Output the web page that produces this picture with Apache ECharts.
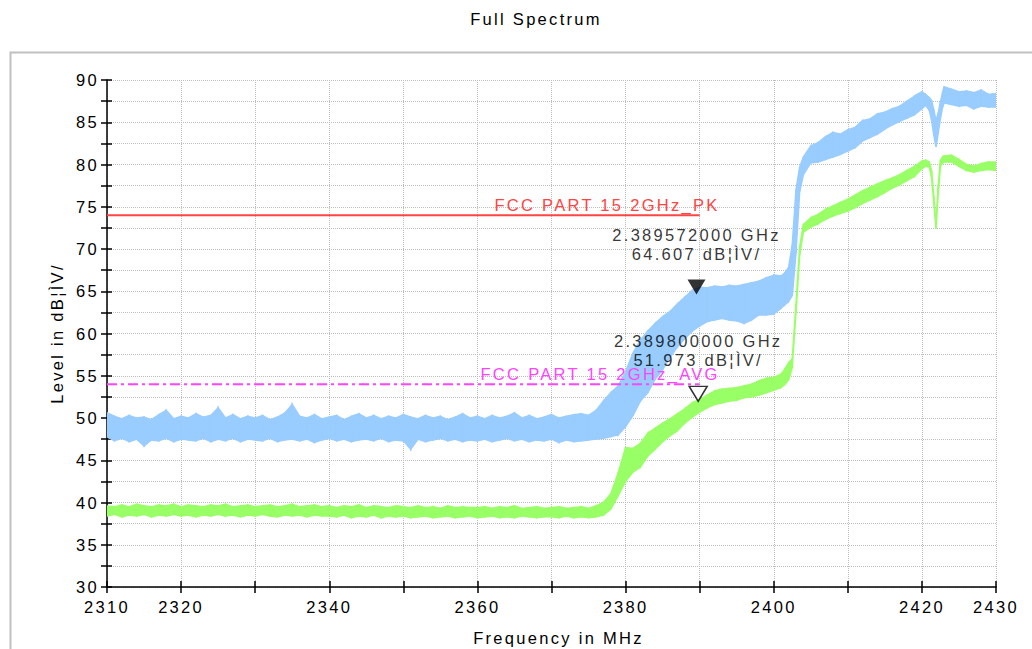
<!DOCTYPE html>
<html>
<head>
<meta charset="utf-8">
<title>Full Spectrum</title>
<script src="https://cdn.jsdelivr.net/npm/echarts@6/dist/echarts.min.js"></script>
<style>
html, body { margin: 0; padding: 0; background: #fff; }
#main { width: 1032px; height: 649px; }
/* the analyser plot uses widely spaced glyphs */
#main text { letter-spacing: 2.3px; }
</style>
</head>
<body>
<div id="main"></div>
<script>
// frequency points (MHz)
const freq = [
  2310, 2311, 2312, 2313, 2314, 2315, 2316, 2317, 2318, 2319,
  2320, 2321, 2322, 2323, 2324, 2325, 2326, 2327, 2328, 2329,
  2330, 2331, 2332, 2333, 2334, 2335, 2336, 2337, 2338, 2339,
  2340, 2341, 2342, 2343, 2344, 2345, 2346, 2347, 2348, 2349,
  2350, 2351, 2352, 2353, 2354, 2355, 2356, 2357, 2358, 2359,
  2360, 2361, 2362, 2363, 2364, 2365, 2366, 2367, 2368, 2369,
  2370, 2371, 2372, 2373, 2374, 2375, 2376, 2377, 2378, 2379,
  2380, 2381, 2382, 2383, 2384, 2385, 2386, 2387, 2388, 2389,
  2390, 2391, 2392, 2393, 2394, 2395, 2396, 2397, 2398, 2399,
  2400, 2401, 2401.5, 2402, 2402.5, 2403, 2403.5, 2404, 2405, 2406,
  2407, 2408, 2409, 2410, 2411, 2412, 2413, 2414, 2415, 2416,
  2417, 2418, 2419, 2420, 2420.5, 2421, 2421.3, 2421.6, 2421.9, 2422.2,
  2422.5, 2422.8, 2423, 2424, 2425, 2426, 2427, 2428, 2429, 2430
];

// peak trace (blue): lower / upper edge of the noise band, dBuV
const peakLow = [
  47.8, 47.3, 47.6, 47.2, 47.5, 46.7, 47.4, 47.3, 47.6, 47.2,
  47.5, 47.4, 47.3, 47.6, 47.2, 47.5, 47.3, 47.6, 47.2, 47.5,
  47.4, 47.3, 47.6, 47.2, 47.4, 47.5, 47.3, 47.5, 47.1, 47.4,
  47.6, 47.3, 47.5, 47.2, 47.4, 47.5, 47.3, 47.6, 47.2, 47.4,
  47.3, 46.3, 47.5, 47.2, 47.4, 47.6, 47.3, 47.5, 47.2, 47.4,
  47.3, 47.5, 47.2, 47.4, 47.6, 47.3, 47.5, 47.2, 47.4, 47.3,
  47.5, 47.1, 47.4, 47.2, 47.3, 47.4, 47.5, 47.6, 47.8, 48.0,
  49.0, 50.3, 52.0, 53.0, 54.6, 55.7, 57.2, 58.4, 59.4, 60.3,
  60.9, 61.4, 61.6, 61.8, 61.6, 61.5, 61.2, 61.6, 62.2, 62.2,
  62.3, 63.0, 63.4, 63.8, 64.5, 69.5, 76.8, 78.8, 80.2, 80.3,
  80.6, 80.9, 81.2, 81.6, 82.0, 82.8, 83.2, 83.6, 84.2, 84.7,
  85.1, 85.5, 85.9, 86.6, 87.0, 86.4, 85.3, 83.5, 82.1, 83.7,
  85.5, 86.8, 87.3, 87.1, 86.9, 87.0, 86.6, 86.9, 86.8, 86.8
];
const peakHigh = [
  50.6, 50.2, 49.9, 50.3, 50.0, 50.1, 49.8, 50.4, 50.9, 49.9,
  50.2, 50.0, 50.5, 50.1, 50.3, 51.2, 50.0, 50.4, 49.9, 50.2,
  50.0, 50.3, 49.8, 50.1, 50.6, 51.6, 50.2, 50.0, 50.4, 49.9,
  50.1, 50.3, 49.8, 50.2, 50.5, 50.0, 50.3, 49.9, 50.2, 50.0,
  50.4, 50.1, 49.9, 50.3, 50.0, 50.2, 49.8, 50.1, 50.5, 50.0,
  50.2, 49.9, 50.3, 50.0, 50.2, 50.6, 50.0, 50.3, 49.9, 50.1,
  50.4, 50.0, 50.2, 50.4, 50.5, 50.3, 50.9, 52.0, 53.0, 53.8,
  55.5, 57.7, 59.2, 60.3, 61.2, 62.0, 62.6, 63.5, 64.3, 65.1,
  65.5, 65.4, 65.6, 65.5, 65.7, 65.6, 65.8, 66.0, 66.2, 66.6,
  66.9, 66.8, 67.2, 67.8, 70.5, 77.0, 79.7, 80.9, 82.2, 82.6,
  83.3, 83.8, 83.6, 84.1, 84.4, 85.2, 85.4, 86.0, 86.2, 86.6,
  86.9, 87.5, 88.1, 88.6, 88.3, 87.9, 87.6, 86.5, 85.2, 86.1,
  87.4, 88.6, 89.2, 88.9, 88.6, 88.7, 88.5, 88.8, 88.3, 88.4
];

// average trace (green): lower / upper edge
const avgLow = [
  38.4, 38.6, 38.3, 38.5, 38.4, 38.6, 38.3, 38.5, 38.4, 38.6,
  38.4, 38.5, 38.3, 38.5, 38.4, 38.6, 38.4, 38.5, 38.3, 38.5,
  38.4, 38.6, 38.4, 38.3, 38.5, 38.4, 38.5, 38.3, 38.5, 38.4,
  38.4, 38.3, 38.5, 38.2, 38.4, 38.3, 38.5, 38.2, 38.4, 38.3,
  38.4, 38.2, 38.3, 38.4, 38.2, 38.3, 38.4, 38.2, 38.3, 38.4,
  38.2, 38.3, 38.4, 38.2, 38.3, 38.2, 38.4, 38.3, 38.2, 38.3,
  38.3, 38.2, 38.4, 38.2, 38.3, 38.2, 38.3, 38.5, 39.2, 40.8,
  42.5, 43.6, 44.2, 45.5, 46.3, 47.2, 47.9, 48.5, 49.4, 50.1,
  50.7, 51.2, 51.6, 51.8, 52.0, 52.1, 52.4, 52.5, 52.7, 53.0,
  53.3, 53.6, 54.0, 54.5, 56.0, 62.5, 69.3, 72.0, 72.6, 73.0,
  73.5, 73.9, 74.2, 74.5, 74.9, 75.4, 75.8, 76.2, 76.7, 77.2,
  77.6, 78.1, 78.6, 79.5, 79.8, 79.7, 78.5, 75.5, 72.4, 76.5,
  79.8, 80.2, 80.3, 80.3, 79.8, 79.3, 79.1, 79.3, 79.4, 79.3
];
const avgHigh = [
  39.6, 39.5, 39.7, 39.5, 39.8, 39.6, 39.5, 39.7, 39.6, 39.8,
  39.5, 39.7, 39.6, 39.5, 39.7, 39.6, 39.8, 39.5, 39.6, 39.7,
  39.5, 39.6, 39.7, 39.5, 39.6, 39.8, 39.5, 39.6, 39.7, 39.5,
  39.6, 39.4, 39.6, 39.5, 39.7, 39.4, 39.6, 39.5, 39.4, 39.6,
  39.5, 39.4, 39.6, 39.4, 39.5, 39.3, 39.6, 39.4, 39.5, 39.4,
  39.4, 39.5, 39.3, 39.5, 39.4, 39.6, 39.3, 39.4, 39.5, 39.3,
  39.4, 39.5, 39.3, 39.4, 39.5, 39.3, 39.6, 40.0, 41.0, 43.5,
  46.5, 46.4, 47.0, 48.2, 48.8, 49.4, 49.9, 50.5, 51.1, 51.8,
  52.2, 52.7, 53.2, 53.4, 53.5, 53.6, 53.8, 54.0, 54.4, 54.7,
  54.8, 55.2, 55.8, 56.5, 57.0, 63.5, 70.3, 72.9, 73.7, 74.1,
  74.7, 75.1, 75.5, 75.9, 76.4, 76.9, 77.3, 77.7, 78.1, 78.4,
  78.8, 79.3, 79.8, 80.4, 80.5, 80.3, 79.3, 76.3, 73.0, 77.5,
  80.5, 80.9, 81.0, 81.1, 80.6, 80.0, 79.8, 80.1, 80.3, 80.3
];

// limit lines
const limitRange = [2310, 2390];
const limitPk = 74;
const limitAvg = 54;
const limitPkName = 'FCC PART 15 2GHz_PK';
const limitAvgName = 'FCC PART 15 2GHz_AVG';

// markers
const markerFreq = [2389.572, 2389.8];
const markerLevel = [64.607, 51.973];

const unit = 'dB¦ÌV/';
const FONT = 'Liberation Sans';
const FS = 16.5;
const BLUE = '#99ccff';
const GREEN = '#99ff66';

const chart = echarts.init(document.getElementById('main'), null, { renderer: 'svg' });

// noise band: one polygon per step, between lower and upper edge
function bandSeries(name, lo, hi, color) {
  return {
    name: name,
    type: 'custom',
    data: freq.map((f, i) => [f, lo[i], hi[i]]),
    encode: { x: 0, y: [1, 2] },
    clip: true,
    z: 2,
    renderItem: function (params, api) {
      const i = params.dataIndexInside;
      if (i >= params.dataInsideLength - 1) return null;
      const f0 = api.value(0, i);
      const f1 = api.value(0, i + 1);
      const pts = [
        api.coord([f0, api.value(1, i)]),
        api.coord([f0, api.value(2, i)]),
        api.coord([f1, api.value(2, i + 1)]),
        api.coord([f1, api.value(1, i + 1)])
      ];
      return {
        type: 'polygon',
        shape: { points: pts },
        style: { fill: color, stroke: color, lineWidth: 1.5 }
      };
    }
  };
}

function limitSeries(name, level, color, type) {
  return {
    name: name,
    type: 'line',
    symbol: 'circle',
    symbolSize: 0.1,
    itemStyle: { color: color },
    lineStyle: { color: color, width: 2, type: type },
    z: 4,
    data: [
      [limitRange[0], level],
      {
        value: [limitRange[1], level],
        label: {
          show: true,
          formatter: name,
          position: 'top',
          align: 'right',
          distance: 2,
          offset: [20, 0],
          color: color,
          fontFamily: FONT,
          fontSize: FS,
          lineHeight: 16
        }
      }
    ]
  };
}

// down pointing triangle, tip at the bottom centre
const triPath = 'path://M0,0L20,0L10,17Z';

const markerData = markerFreq.map((f, i) => ({
  value: [f, markerLevel[i]],
  itemStyle: i === 0
    ? { color: '#000' }
    : { color: '#fff', borderColor: '#000', borderWidth: 1.5 },
  label: {
    show: true,
    formatter: (f / 1000).toFixed(9) + ' GHz\n' + markerLevel[i].toFixed(3) + ' ' + unit
  }
}));

const option = {
  animation: false,
  backgroundColor: '#fff',
  title: {
    text: 'Full Spectrum',
    left: 531,
    textAlign: 'center',
    top: 5,
    textStyle: { fontFamily: FONT, fontSize: FS, fontWeight: 'normal', color: '#000' }
  },
  graphic: [
    {
      type: 'rect',
      left: 8,
      top: 50,
      z: -10,
      shape: { width: 1100, height: 700 },
      style: { fill: 'none', stroke: '#c0c0c0', lineWidth: 2 }
    }
  ],
  grid: { left: 107, right: 36, top: 80, bottom: 62, containLabel: false, outerBoundsMode: 'none' },
  xAxis: [
    {
      type: 'value',
      min: 2310,
      max: 2430,
      interval: 10,
      name: 'Frequency in MHz',
      nameLocation: 'middle',
      nameGap: 42,
      nameTextStyle: { fontFamily: FONT, fontSize: FS, color: '#000', padding: [0, 0, 0, 14] },
      axisLine: { lineStyle: { color: '#000', width: 1.5 } },
      axisTick: { length: 6, lineStyle: { color: '#000', width: 1.5 } },
      axisLabel: {
        color: '#000',
        fontFamily: FONT,
        fontSize: FS,
        margin: 11,
        formatter: v => (v % 20 === 0 || v === 2310 || v === 2430) ? String(v) : ''
      },
      splitLine: { show: true, lineStyle: { color: '#bdbdbd', type: 'dotted', width: 1 } }
    },
    {
      type: 'value',
      position: 'bottom',
      min: 2310,
      max: 2430,
      interval: 10,
      axisLine: { show: false },
      axisTick: { inside: true, length: 6, lineStyle: { color: '#000', width: 1.5 } },
      axisLabel: { show: false },
      splitLine: { show: false }
    }
  ],
  yAxis: [
    {
      type: 'value',
      min: 30,
      max: 90,
      interval: 2.5,
      name: 'Level in ' + unit,
      nameLocation: 'middle',
      nameGap: 42,
      nameTextStyle: { fontFamily: FONT, fontSize: FS, color: '#000' },
      axisLine: { show: true, lineStyle: { color: '#000', width: 1.5 } },
      axisTick: { show: true, length: 6, lineStyle: { color: '#000', width: 1.5 } },
      axisLabel: {
        color: '#000',
        fontFamily: FONT,
        fontSize: FS,
        margin: 8,
        formatter: v => (v % 5 === 0) ? String(v) : ''
      },
      splitLine: { show: true, lineStyle: { color: '#bdbdbd', type: 'dotted', width: 1 } }
    },
    {
      type: 'value',
      position: 'left',
      min: 30,
      max: 90,
      interval: 2.5,
      axisLine: { show: false },
      axisTick: { show: true, inside: true, length: 5, lineStyle: { color: '#000', width: 1.5 } },
      axisLabel: { show: false },
      splitLine: { show: false }
    }
  ],
  series: [
    bandSeries('Peak', peakLow, peakHigh, BLUE),
    bandSeries('Average', avgLow, avgHigh, GREEN),
    limitSeries(limitPkName, limitPk, '#ff4444', 'solid'),
    limitSeries(limitAvgName, limitAvg, '#ff44ff', [10, 4, 3, 4]),
    {
      name: 'Markers',
      type: 'scatter',
      symbol: triPath,
      symbolSize: [18, 15],
      symbolOffset: [0, -7.5],
      z: 6,
      label: {
        position: 'top',
        distance: 16,
        color: '#000',
        fontFamily: FONT,
        fontSize: FS,
        lineHeight: 19,
        align: 'center'
      },
      data: markerData
    }
  ]
};

chart.setOption(option);
</script>
</body>
</html>
